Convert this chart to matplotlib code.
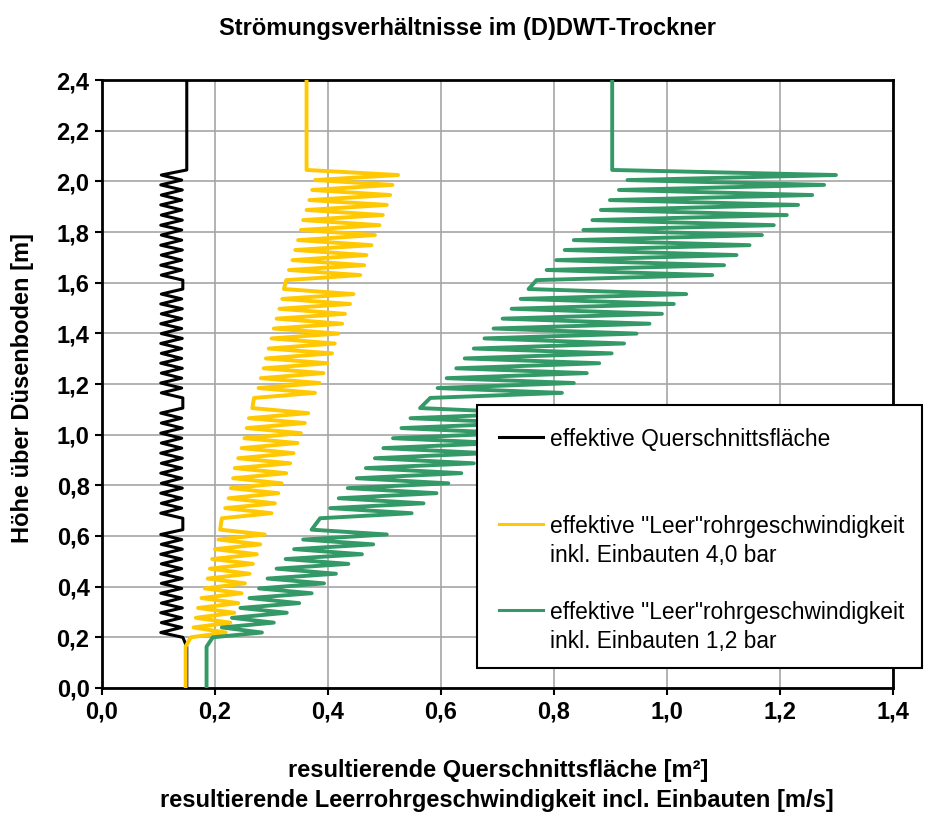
import matplotlib
matplotlib.use("Agg")
import matplotlib.pyplot as plt
from matplotlib.ticker import FuncFormatter
from matplotlib.patches import Rectangle
from matplotlib.lines import Line2D

plt.rcParams['font.family'] = ['Liberation Sans', 'DejaVu Sans']

# heights of the turning points [m], shared by all three curves
bottom_y = [0.0, 0.163]
s1_y = [0.200, 0.219, 0.239, 0.258, 0.277, 0.297, 0.316, 0.335, 0.355, 0.374, 0.393, 0.413,
        0.432, 0.451, 0.471, 0.490, 0.509, 0.528, 0.548, 0.567, 0.586, 0.606, 0.625]
s2_y = [0.670, 0.690, 0.710, 0.729, 0.749, 0.769, 0.789, 0.808, 0.828, 0.848, 0.868, 0.887,
        0.907, 0.927, 0.947, 0.967, 0.986, 1.006, 1.026, 1.046, 1.065, 1.085, 1.105]
s3_y = [1.145, 1.165, 1.184, 1.204, 1.223, 1.243, 1.262, 1.282, 1.301, 1.321, 1.340, 1.360,
        1.380, 1.399, 1.419, 1.438, 1.458, 1.477, 1.497, 1.516, 1.536, 1.555, 1.575]
s4_y = [1.610, 1.630, 1.650, 1.669, 1.689, 1.709, 1.729, 1.748, 1.768, 1.788, 1.808, 1.827,
        1.847, 1.867, 1.887, 1.907, 1.926, 1.946, 1.966, 1.986, 2.005, 2.025, 2.045]
top_y = [2.4]

# effektive Querschnittsfläche [m²]
area_bottom = [0.150, 0.150]
area_s1 = [0.143, 0.104, 0.141, 0.105, 0.141, 0.104, 0.142, 0.105, 0.141, 0.104, 0.141, 0.105,
           0.142, 0.104, 0.141, 0.105, 0.141, 0.104, 0.142, 0.105, 0.141, 0.104, 0.143]
area_s2 = [0.143, 0.104, 0.141, 0.105, 0.141, 0.104, 0.142, 0.105, 0.141, 0.104, 0.141, 0.105,
           0.142, 0.104, 0.141, 0.105, 0.141, 0.104, 0.142, 0.105, 0.141, 0.104, 0.143]
area_s3 = [0.143, 0.105, 0.141, 0.104, 0.141, 0.105, 0.142, 0.104, 0.141, 0.105, 0.141, 0.104,
           0.142, 0.105, 0.141, 0.104, 0.141, 0.105, 0.142, 0.104, 0.141, 0.105, 0.143]
area_s4 = [0.143, 0.105, 0.141, 0.104, 0.141, 0.105, 0.142, 0.104, 0.141, 0.105, 0.141, 0.104,
           0.142, 0.105, 0.141, 0.104, 0.141, 0.105, 0.142, 0.104, 0.141, 0.105, 0.150]
area_top = [0.150]

# effektive "Leer"rohrgeschwindigkeit 4,0 bar [m/s]
v4_bottom = [0.148, 0.148]
v4_s1 = [0.157, 0.219, 0.162, 0.227, 0.166, 0.234, 0.170, 0.241, 0.176, 0.247, 0.182, 0.253,
         0.187, 0.261, 0.191, 0.267, 0.195, 0.274, 0.200, 0.280, 0.206, 0.288, 0.209]
v4_s2 = [0.212, 0.300, 0.218, 0.306, 0.224, 0.312, 0.228, 0.318, 0.232, 0.326, 0.235, 0.333,
         0.241, 0.339, 0.247, 0.346, 0.252, 0.352, 0.256, 0.359, 0.260, 0.365, 0.266]
v4_s3 = [0.269, 0.377, 0.277, 0.385, 0.281, 0.392, 0.286, 0.399, 0.290, 0.407, 0.295, 0.412,
         0.300, 0.418, 0.304, 0.425, 0.309, 0.430, 0.314, 0.439, 0.319, 0.445, 0.322]
v4_s4 = [0.326, 0.457, 0.331, 0.464, 0.337, 0.468, 0.342, 0.477, 0.347, 0.483, 0.352, 0.491,
         0.356, 0.497, 0.362, 0.504, 0.367, 0.510, 0.372, 0.514, 0.377, 0.524, 0.362]
v4_top = [0.362]

# effektive "Leer"rohrgeschwindigkeit 1,2 bar [m/s]
v12_bottom = [0.185, 0.185]
v12_s1 = [0.196, 0.283, 0.212, 0.304, 0.230, 0.327, 0.245, 0.349, 0.261, 0.371, 0.278, 0.393,
          0.293, 0.414, 0.309, 0.436, 0.325, 0.460, 0.340, 0.480, 0.356, 0.504, 0.371]
v12_s2 = [0.386, 0.548, 0.404, 0.569, 0.419, 0.592, 0.435, 0.613, 0.451, 0.636, 0.467, 0.658,
          0.483, 0.680, 0.498, 0.702, 0.515, 0.724, 0.530, 0.746, 0.546, 0.768, 0.563]
v12_s3 = [0.581, 0.814, 0.594, 0.835, 0.610, 0.858, 0.627, 0.880, 0.642, 0.902, 0.658, 0.924,
          0.677, 0.946, 0.693, 0.969, 0.709, 0.991, 0.725, 1.012, 0.741, 1.034, 0.755]
v12_s4 = [0.769, 1.080, 0.787, 1.101, 0.804, 1.123, 0.819, 1.146, 0.835, 1.168, 0.852, 1.189,
          0.868, 1.212, 0.883, 1.232, 0.899, 1.257, 0.915, 1.278, 0.930, 1.299, 0.903]
v12_top = [0.903]

labels = [['effektive Querschnittsfläche'],
          ['effektive "Leer"rohrgeschwindigkeit', 'inkl. Einbauten 4,0 bar'],
          ['effektive "Leer"rohrgeschwindigkeit', 'inkl. Einbauten 1,2 bar']]
colors = ['#000000', '#FFC800', '#339966']

height = bottom_y + s1_y + s2_y + s3_y + s4_y + top_y
area = area_bottom + area_s1 + area_s2 + area_s3 + area_s4 + area_top
v4 = v4_bottom + v4_s1 + v4_s2 + v4_s3 + v4_s4 + v4_top
v12 = v12_bottom + v12_s1 + v12_s2 + v12_s3 + v12_s4 + v12_top

fig = plt.figure(figsize=(9.25, 8.14), dpi=100)
ax = fig.add_axes([0.1103, 0.1548, 0.8551, 0.7469])

ax.plot(area, height, color=colors[0], lw=2.2, zorder=3)
ax.plot(v4, height, color=colors[1], lw=2.8, zorder=4)
ax.plot(v12, height, color=colors[2], lw=2.8, zorder=5)

ax.set_xlim(0, 1.4)
ax.set_ylim(0, 2.4)
ax.set_xticks([0.0, 0.2, 0.4, 0.6, 0.8, 1.0, 1.2, 1.4])
ax.set_yticks([0.0, 0.2, 0.4, 0.6, 0.8, 1.0, 1.2, 1.4, 1.6, 1.8, 2.0, 2.2, 2.4])
comma = FuncFormatter(lambda v, p: f"{v:.1f}".replace('.', ','))
ax.xaxis.set_major_formatter(comma)
ax.yaxis.set_major_formatter(comma)
ax.tick_params(direction='out', length=5, width=1.5, labelsize=17, pad=4)
for lab in ax.get_xticklabels() + ax.get_yticklabels():
    lab.set_fontweight('bold')
ax.grid(True, color='#a6a6a6', lw=1.2, zorder=0)
ax.set_axisbelow(True)
for sp in ax.spines.values():
    sp.set_linewidth(2)

fig.text(0.505, 0.9656, 'Strömungsverhältnisse im (D)DWT-Trockner', ha='center', va='center',
         fontsize=17, fontweight='bold')
fig.text(0.539, 0.054, 'resultierende Querschnittsfläche [m²]', ha='center', va='center',
         fontsize=17, fontweight='bold')
fig.text(0.537, 0.017, 'resultierende Leerrohrgeschwindigkeit incl. Einbauten [m/s]',
         ha='center', va='center', fontsize=17, fontweight='bold')
fig.text(0.024, 0.523, 'Höhe über Düsenboden [m]', ha='center', va='center', rotation=90,
         fontsize=17, fontweight='bold')

# legend box (Excel style, reaching past the right axis edge)
box = Rectangle((0.474, 0.033), 0.563, 0.4325, transform=ax.transAxes, facecolor='white',
                edgecolor='black', lw=1.5, clip_on=False, zorder=10)
ax.add_patch(box)
rows = [0.413, 0.270, 0.128]
line_gap = 0.048
for lab, col, yy in zip(labels, colors, rows):
    ax.add_line(Line2D([0.502, 0.558], [yy, yy], transform=ax.transAxes, color=col, lw=2.2,
                       clip_on=False, zorder=11))
    for i, txt in enumerate(lab):
        ax.text(0.566, yy - i * line_gap, txt, transform=ax.transAxes, ha='left',
                va='center_baseline', fontsize=16.4, zorder=11)

fig.savefig('out.png', dpi=100)
